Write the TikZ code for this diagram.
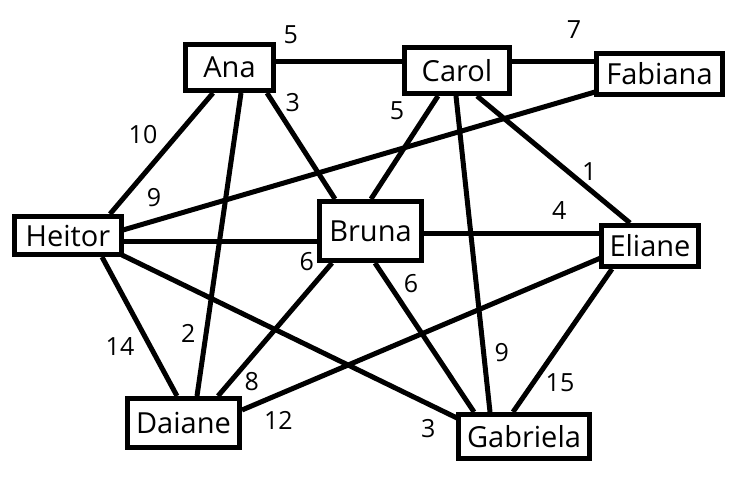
\documentclass[tikz,border=0pt]{standalone}
\usepackage{fontspec}
\setmainfont{Open Sans}
\usetikzlibrary{calc}
\pgfdeclarelayer{bg}
\pgfsetlayers{bg,main}
\begin{document}
\begin{tikzpicture}[x=1pt,y=-1pt,
  vbox/.style={draw,line width=5pt,fill=white,inner sep=0pt,outer sep=0pt,font=\fontsize{29}{29}\selectfont},
  edge/.style={line width=5pt},
  wt/.style={font=\fontsize{25}{25}\selectfont,inner sep=0pt}]
\useasboundingbox (0,0) rectangle (751,484);
\node[vbox,minimum width=88pt,minimum height=46pt] (ana) at (229.5,67.5) {Ana};
\node[vbox,minimum width=105pt,minimum height=46pt] (carol) at (457,70.5) {Carol};
\node[vbox,minimum width=126pt,minimum height=41pt] (fabiana) at (659.5,74) {Fabiana};
\node[vbox,minimum width=107pt,minimum height=38pt] (heitor) at (68,235.5) {Heitor};
\node[vbox,minimum width=102pt,minimum height=59pt] (bruna) at (370.5,231) {Bruna};
\node[vbox,minimum width=97pt,minimum height=41pt] (eliane) at (650,246) {Eliane};
\node[vbox,minimum width=112pt,minimum height=49pt] (daiane) at (183.5,423) {Daiane};
\node[vbox,minimum width=131pt,minimum height=44pt] (gabriela) at (524,436.5) {Gabriela};
\begin{pgfonlayer}{bg}
\fill[white] (0,0) rectangle (751,484);
\draw[edge] ($(ana)+(46.5,-5.5)$) -- ($(carol)+(-55,-8.5)$);
\draw[edge] ($(carol)+(55,-8.5)$) -- ($(fabiana)+(-65.5,-12)$);
\draw[edge] ($(ana)+(-16.5,25.5)$) -- ($(heitor)+(42,-21.5)$);
\draw[edge] ($(ana)+(11.5,25.5)$) -- ($(daiane)+(13.5,-27)$);
\draw[edge] ($(ana)+(37.5,25.5)$) -- ($(bruna)+(-35.5,-32)$);
\draw[edge] ($(carol)+(-19,25.5)$) -- ($(bruna)+(0.5,-32)$);
\draw[edge] ($(carol)+(-1,25.5)$) -- ($(gabriela)+(-34,-24.5)$);
\draw[edge] ($(carol)+(20,25.5)$) -- ($(eliane)+(-20,-23)$);
\draw[edge] ($(fabiana)+(-64.5,18)$) -- ($(heitor)+(55,-5.5)$);
\draw[edge] ($(heitor)+(56,6.2)$) -- ($(bruna)+(-53.5,10.7)$);
\draw[edge] ($(bruna)+(53.5,2)$) -- ($(eliane)+(-51,-13)$);
\draw[edge] ($(heitor)+(34,21.5)$) -- ($(daiane)+(-6.5,-27)$);
\draw[edge] ($(heitor)+(54,19.5)$) -- ($(gabriela)+(-67,-18.5)$);
\draw[edge] ($(bruna)+(-38.5,32)$) -- ($(daiane)+(34.5,-27)$);
\draw[edge] ($(bruna)+(4.5,32)$) -- ($(gabriela)+(-50,-24.5)$);
\draw[edge] ($(eliane)+(-47,11)$) -- ($(daiane)+(58.5,-13)$);
\draw[edge] ($(eliane)+(-38,23)$) -- ($(gabriela)+(-11,-24.5)$);
\end{pgfonlayer}
\node[wt] (w1) at (290.7,35) {5};
\node[wt] (w2) at (574,30) {7};
\node[wt] (w3) at (292.7,103) {3};
\node[wt] (w4) at (397,111) {5};
\node[wt] (w5) at (143,135) {10};
\node[wt] (w6) at (154,198) {9};
\node[wt] (w7) at (306.7,261.7) {6};
\node[wt] (w8) at (589.3,171.7) {1};
\node[wt] (w9) at (559.3,210.7) {4};
\node[wt] (w10) at (411,284) {6};
\node[wt] (w11) at (120,346.7) {14};
\node[wt] (w12) at (188.3,333.3) {2};
\node[wt] (w13) at (251.7,381.7) {8};
\node[wt] (w14) at (278.3,420) {12};
\node[wt] (w15) at (501.7,352.3) {9};
\node[wt] (w16) at (560,382.3) {15};
\node[wt] (w17) at (428.3,428.3) {3};
\end{tikzpicture}
\end{document}
